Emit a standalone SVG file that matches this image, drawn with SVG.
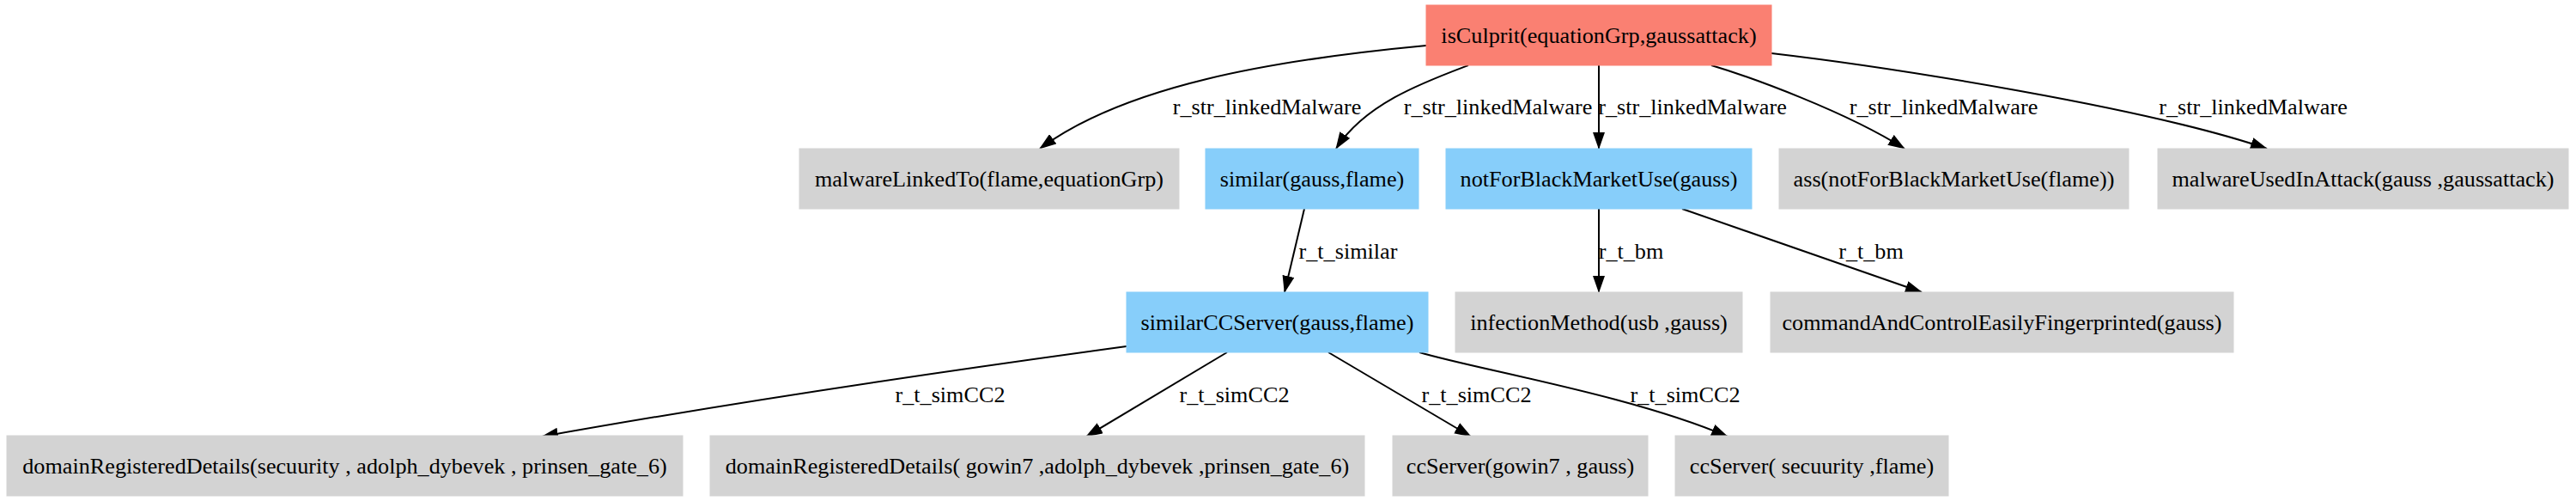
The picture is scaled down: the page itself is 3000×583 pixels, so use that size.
<svg xmlns="http://www.w3.org/2000/svg" width="3000" height="583" viewBox="0 0 3000 583">
<style>
text{font-family:"Liberation Serif","Times New Roman",serif;font-size:26.2px;fill:#000;text-anchor:middle}
.root{fill:#fa8072;stroke:#fa8072}
.blue{fill:#87cefa;stroke:#87cefa}
.gray{fill:#d3d3d3;stroke:#d3d3d3}
.e{fill:none;stroke:#000;stroke-width:2;marker-end:url(#arr)}
</style>
<defs>
<marker id="arr" viewBox="0 0 20 14" refX="19" refY="7" markerWidth="20" markerHeight="14" markerUnits="userSpaceOnUse" orient="auto">
<path d="M0,0 L20,7 L0,14 z" fill="#000"/>
</marker>
</defs>
<rect width="3000" height="583" fill="#fff"/>
<g id="connectors">
<path class="e" d="M1661,53 C1480,70 1310,100 1211,173"/>
<path class="e" d="M1710,76 C1660,95 1590,120 1556,173"/>
<path class="e" d="M1862,76 L1862,173"/>
<path class="e" d="M1993,76 C2040,90 2150,130 2218,173"/>
<path class="e" d="M2063,62 C2200,78 2500,125 2640,173"/>
<path class="e" d="M1519,243 L1496,340"/>
<path class="e" d="M1862,243 L1862,340"/>
<path class="e" d="M1959,243 L2238,340"/>
<path class="e" d="M1312,403 C1150,425 900,460 631,508"/>
<path class="e" d="M1429,410 L1265,508"/>
<path class="e" d="M1547,410 L1713,508"/>
<path class="e" d="M1653,410 C1720,430 1900,460 2012,508"/>
<text x="1475.5" y="133">r_str_linkedMalware</text>
<text x="1744.5" y="133">r_str_linkedMalware</text>
<text x="1971" y="133">r_str_linkedMalware</text>
<text x="2263.5" y="133">r_str_linkedMalware</text>
<text x="2624" y="133">r_str_linkedMalware</text>
<text x="1570" y="301">r_t_similar</text>
<text x="1899.5" y="301">r_t_bm</text>
<text x="2179" y="301">r_t_bm</text>
<text x="1106.5" y="468">r_t_simCC2</text>
<text x="1437.5" y="468">r_t_simCC2</text>
<text x="1719.5" y="468">r_t_simCC2</text>
<text x="1962.5" y="468">r_t_simCC2</text>
</g>
<g id="n_root"><rect class="root" x="1661" y="6" width="402" height="70"/><text x="1862" y="50">isCulprit(equationGrp,gaussattack)</text></g>
<g id="n_malwareLinkedTo"><rect class="gray" x="931" y="173" width="442" height="70"/><text x="1152" y="217">malwareLinkedTo(flame,equationGrp)</text></g>
<g id="n_similar"><rect class="blue" x="1404" y="173" width="248" height="70"/><text x="1528" y="217">similar(gauss,flame)</text></g>
<g id="n_notForBlackMarketUse"><rect class="blue" x="1684" y="173" width="356" height="70"/><text x="1862" y="217">notForBlackMarketUse(gauss)</text></g>
<g id="n_ass"><rect class="gray" x="2072" y="173" width="407" height="70"/><text x="2275.5" y="217">ass(notForBlackMarketUse(flame))</text></g>
<g id="n_malwareUsedInAttack"><rect class="gray" x="2513" y="173" width="478" height="70"/><text x="2752" y="217">malwareUsedInAttack(gauss ,gaussattack)</text></g>
<g id="n_similarCCServer"><rect class="blue" x="1312" y="340" width="351" height="70"/><text x="1487.5" y="384">similarCCServer(gauss,flame)</text></g>
<g id="n_infectionMethod"><rect class="gray" x="1695" y="340" width="334" height="70"/><text x="1862" y="384">infectionMethod(usb ,gauss)</text></g>
<g id="n_commandAndControl"><rect class="gray" x="2062" y="340" width="539" height="70"/><text x="2331.5" y="384">commandAndControlEasilyFingerprinted(gauss)</text></g>
<g id="n_domain1"><rect class="gray" x="8" y="507" width="787" height="70"/><text x="401.5" y="551">domainRegisteredDetails(secuurity , adolph_dybevek , prinsen_gate_6)</text></g>
<g id="n_domain2"><rect class="gray" x="827" y="507" width="762" height="70"/><text x="1208" y="551">domainRegisteredDetails( gowin7 ,adolph_dybevek ,prinsen_gate_6)</text></g>
<g id="n_ccServer1"><rect class="gray" x="1622" y="507" width="297" height="70"/><text x="1770.5" y="551">ccServer(gowin7 , gauss)</text></g>
<g id="n_ccServer2"><rect class="gray" x="1951" y="507" width="318" height="70"/><text x="2110" y="551">ccServer( secuurity ,flame)</text></g>
</svg>
